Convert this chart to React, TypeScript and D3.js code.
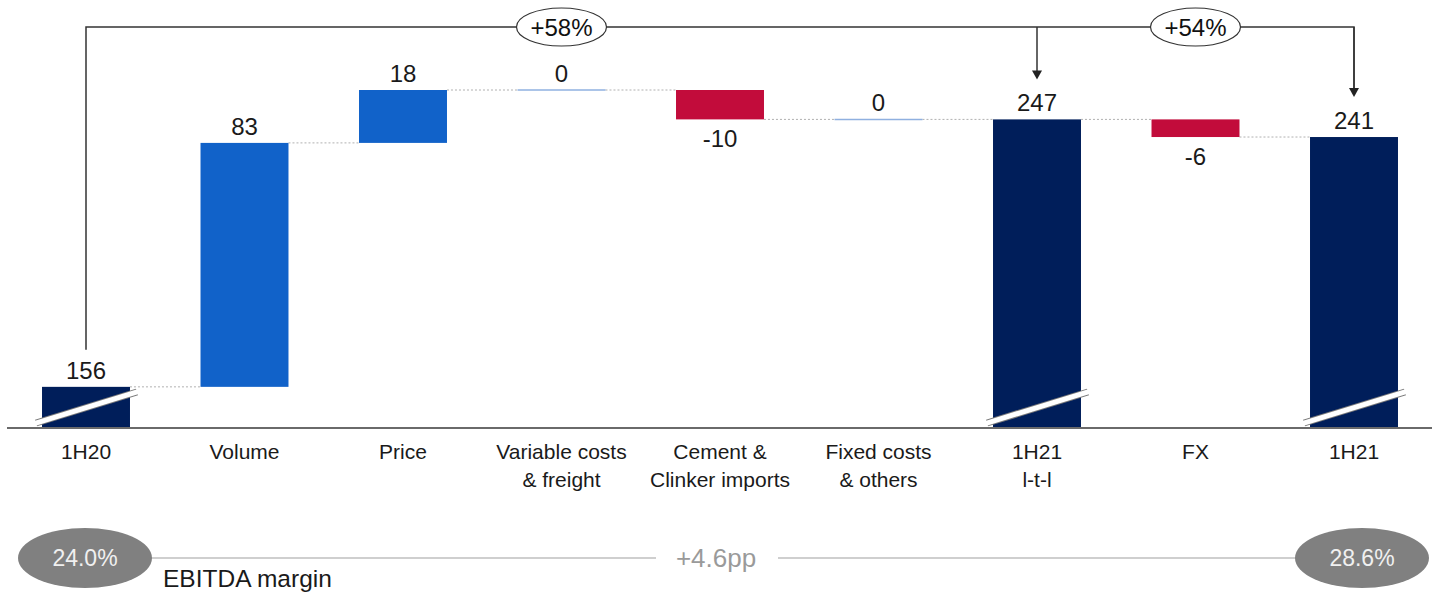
import React from "react";
import * as d3 from "d3";

// EBITDA bridge, 1H20 → 1H21 (figures in millions)
const categories = [
  "1H20",
  "Volume",
  "Price",
  "Variable costs\n& freight",
  "Cement &\nClinker imports",
  "Fixed costs\n& others",
  "1H21\nl-t-l",
  "FX",
  "1H21",
];
const values = [156, 83, 18, 0, -10, 0, 247, -6, 241];
const kinds = ["total", "delta", "delta", "delta", "delta", "delta", "total", "delta", "total"];

// growth call-outs: [from index, to index, label]
const growthFrom = [0, 0];
const growthTo = [6, 8];
const growthLabels = ["+58%", "+54%"];
const growthLabelAt = [3, 7];

// EBITDA margin strip
const marginLabels = ["24.0%", "28.6%"];
const marginChange = "+4.6pp";
const marginTitle = "EBITDA margin";

const W = 1442;
const H = 595;
const FONT = "'Liberation Sans', Arial, sans-serif";
const NAVY = "#001e5a";
const BLUE = "#1162c9";
const RED = "#c20c3b";
const ZERO = "#8fb0e0";

type Step = { cat: string; kind: string; v: number; y0: number; y1: number };

function buildSteps(): Step[] {
  let run = 0;
  return categories.map((cat, i) => {
    const v = values[i];
    if (kinds[i] === "total") {
      run = v;
      return { cat, kind: "total", v, y0: NaN, y1: v };
    }
    const start = run;
    run += v;
    return { cat, kind: "delta", v, y0: start, y1: run };
  });
}

export default function App() {
  const steps = buildSteps();
  const baseY = 428;
  const floor = 142; // axis is broken: totals start below this visible floor

  const x = d3
    .scaleBand<string>()
    .domain(categories)
    .range([6.75, 1433.25])
    .paddingInner(0.445)
    .paddingOuter(0.2225);
  const y = d3.scaleLinear().domain([floor, 257]).range([baseY, 90]);
  const bw = x.bandwidth();
  const cx = (i: number) => (x(categories[i]) as number) + bw / 2;

  const topOf = (s: Step) => (s.kind === "total" ? y(s.y1) : y(Math.max(s.y0, s.y1)));

  // connectors: each step's end level to the next bar
  const connectors = steps.slice(0, -1).map((s, i) => {
    const lvl = y(s.y1);
    return { x1: (x(s.cat) as number) + bw, x2: x(categories[i + 1]) as number, y: lvl };
  });

  const lineY = 27;

  return (
    <svg width={W} height={H} style={{ position: "absolute", left: 0, top: 0 }} fontFamily={FONT}>
      <rect width={W} height={H} fill="#fff" />

      {/* connectors */}
      {connectors.map((c, i) => (
        <line key={"c" + i} x1={c.x1} x2={c.x2} y1={c.y} y2={c.y} stroke="#b0b0b0" strokeWidth={1} strokeDasharray="2,2" />
      ))}

      {/* bars */}
      {steps.map((s, i) => {
        const x0 = x(s.cat) as number;
        if (s.kind === "total") {
          const t = y(s.y1);
          return (
            <g key={"b" + i}>
              <rect x={x0} y={t} width={bw} height={baseY - t} fill={NAVY} />
              {/* axis break */}
              <line x1={x0 - 6} y1={baseY - 5} x2={x0 + bw + 7} y2={baseY - 36} stroke="#7a7a7a" strokeWidth={7} />
              <line x1={x0 - 7} y1={baseY - 4.7} x2={x0 + bw + 8} y2={baseY - 36.3} stroke="#fff" strokeWidth={5} />
            </g>
          );
        }
        if (s.v === 0) {
          return <line key={"b" + i} x1={x0} x2={x0 + bw} y1={y(s.y1)} y2={y(s.y1)} stroke={ZERO} strokeWidth={1.5} />;
        }
        const a = y(Math.max(s.y0, s.y1));
        const b = y(Math.min(s.y0, s.y1));
        return <rect key={"b" + i} x={x0} y={a} width={bw} height={b - a} fill={s.v > 0 ? BLUE : RED} />;
      })}

      {/* axis */}
      <line x1={7} x2={1432} y1={baseY} y2={baseY} stroke="#6a6a6a" strokeWidth={2} />

      {/* value labels */}
      {steps.map((s, i) => {
        const neg = s.v < 0;
        const yy = neg ? y(Math.min(s.y0, s.y1)) + 28 : topOf(s) - 8;
        return (
          <text key={"v" + i} x={cx(i)} y={yy} textAnchor="middle" fontSize={24} fill="#1a1a1a">
            {String(s.v)}
          </text>
        );
      })}

      {/* category labels */}
      {categories.map((c, i) => (
        <text key={"k" + i} x={cx(i)} y={459} textAnchor="middle" fontSize={21} fill="#1a1a1a">
          {c.split("\n").map((ln, j) => (
            <tspan key={j} x={cx(i)} dy={j === 0 ? 0 : 28}>
              {ln}
            </tspan>
          ))}
        </text>
      ))}

      {/* growth bracket */}
      <path
        d={`M${cx(growthFrom[0])},${topOf(steps[growthFrom[0]]) - 37} V${lineY} H${cx(growthTo[1])} V${topOf(steps[growthTo[1]]) - 48}`}
        fill="none"
        stroke="#333"
        strokeWidth={1.5}
      />
      {growthTo.map((t, i) => {
        const tip = topOf(steps[t]) - 40;
        const px = cx(t);
        return (
          <g key={"a" + i}>
            <line x1={px} x2={px} y1={lineY} y2={tip - 8} stroke="#333" strokeWidth={1.5} />
            <path d={`M${px - 5},${tip - 9} L${px + 5},${tip - 9} L${px},${tip} Z`} fill="#222" />
          </g>
        );
      })}
      {growthLabels.map((g, i) => {
        const px = cx(growthLabelAt[i]);
        return (
          <g key={"g" + i}>
            <ellipse cx={px} cy={lineY} rx={45} ry={19} fill="#fff" stroke="#333" strokeWidth={1.2} />
            <text x={px} y={lineY + 8.5} textAnchor="middle" fontSize={24} fill="#111">
              {g}
            </text>
          </g>
        );
      })}

      {/* EBITDA margin strip */}
      <line x1={150} x2={656} y1={558} y2={558} stroke="#cfcfcf" strokeWidth={2} />
      <line x1={778} x2={1300} y1={558} y2={558} stroke="#cfcfcf" strokeWidth={2} />
      <text x={716} y={567} textAnchor="middle" fontSize={26} fill="#9a9a9a">
        {marginChange}
      </text>
      {[85, 1362].map((ex, i) => (
        <g key={"m" + i}>
          <ellipse cx={ex} cy={558} rx={67} ry={30} fill="#808080" />
          <text x={ex} y={566} textAnchor="middle" fontSize={23} fill="#f0f0f0">
            {marginLabels[i]}
          </text>
        </g>
      ))}
      <text x={163} y={587} fontSize={24.5} fill="#1a1a1a">
        {marginTitle}
      </text>
    </svg>
  );
}
